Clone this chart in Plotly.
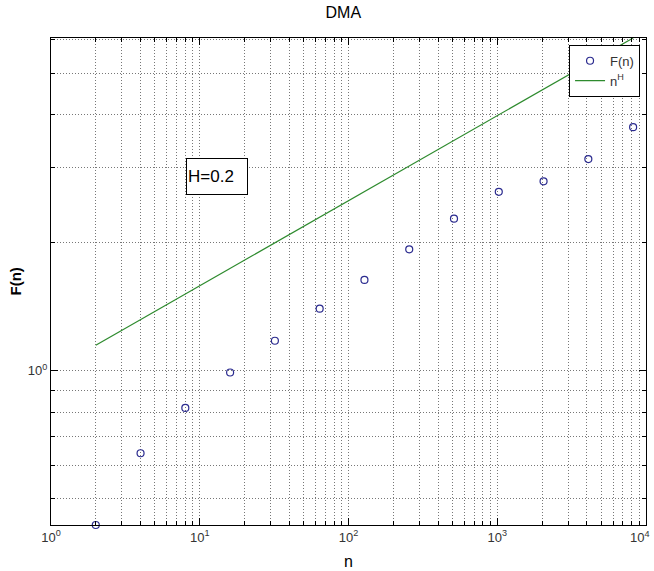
import math
import plotly.graph_objects as go

# Data
n_vals = [2, 4, 8, 16, 32, 64, 128, 256, 512, 1024, 2048, 4096, 8192]
F_vals = [0.434, 0.640, 0.818, 0.991, 1.177, 1.40, 1.636, 1.931, 2.28, 2.636, 2.79, 3.147, 3.742]
fit_n = [2, 8192]
fit_F = [1.149, 6.063]          # n^H with H = 0.2
x_major = [1, 10, 100, 1000, 10000]
x_major_text = ["10<sup>0</sup>", "10<sup>1</sup>", "10<sup>2</sup>", "10<sup>3</sup>", ""]
x_last_text = "10<sup>4</sup>"
x_minor = [m * d for d in [1, 10, 100, 1000] for m in range(2, 10)]
y_major = [1]
y_major_text = ["10<sup>0</sup>"]
y_minor = [0.5, 0.6, 0.7, 0.8, 0.9, 2, 3, 4, 5, 6]
y_low, y_high = 0.434, 6.063

FONT = "Liberation Sans Narrow, Arial Narrow, Liberation Sans, Arial, sans-serif"
GRID = "#777777"
DASH = "1px,2px"

fig = go.Figure()
fig.add_trace(go.Scatter(
    x=n_vals, y=F_vals, mode="markers", name="F(n)",
    marker=dict(symbol="circle-open", size=7, color="#2b2b8f", line=dict(width=1.2)),
    cliponaxis=False,
))
fig.add_trace(go.Scatter(
    x=fit_n, y=fit_F, mode="lines", name="n<sup>H</sup>",
    line=dict(color="#2e8b2e", width=1.2),
))

axis_common = dict(
    showline=True, linecolor="black", linewidth=1, mirror="ticks",
    ticks="inside", ticklen=7, tickcolor="black",
    showgrid=True, gridcolor=GRID, griddash=DASH, gridwidth=1,
    zeroline=False, tickfont=dict(family=FONT, size=13, color="#333333"),
    ticklabeloverflow="allow", automargin=False,
)

fig.update_xaxes(
    type="log", range=[0, 4], tickmode="array", tickvals=x_major, ticktext=x_major_text,
    minor=dict(tickmode="array", tickvals=x_minor, ticks="inside", ticklen=4, tickcolor="black",
               showgrid=True, gridcolor=GRID, griddash=DASH, gridwidth=1),
    **axis_common,
)
fig.update_yaxes(
    type="log", range=[math.log10(y_low), math.log10(y_high)], tickmode="array",
    tickvals=y_major, ticktext=y_major_text,
    minor=dict(tickmode="array", tickvals=y_minor, ticks="inside", ticklen=4, tickcolor="black",
               showgrid=True, gridcolor=GRID, griddash=DASH, gridwidth=1),
    **axis_common,
)

fig.update_layout(
    width=654, height=571,
    margin=dict(l=51, r=8, t=38, b=46, autoexpand=False),
    paper_bgcolor="white", plot_bgcolor="white",
    font=dict(family=FONT, color="black"),
    title=dict(text="DMA", x=0.525, xanchor="center", y=1 - 12 / 571, yanchor="middle",
               font=dict(family=FONT, size=16, color="black")),
    showlegend=True,
    legend=dict(x=0.99, xanchor="right", y=0.986, yanchor="top",
                bgcolor="white", bordercolor="black", borderwidth=1,
                font=dict(family=FONT, size=13, color="#333333"),
                itemwidth=30, tracegroupgap=2),
    annotations=[
        dict(text="H=0.2", xref="paper", yref="paper", x=0.2795, y=0.7166,
             xanchor="center", yanchor="middle", showarrow=False,
             font=dict(family=FONT, size=17, color="black"),
             bordercolor="black", borderwidth=1, bgcolor="white",
             width=58, height=33, align="left", borderpad=1),
        dict(text=x_last_text, xref="paper", yref="paper", x=1.0, y=-0.005,
             xanchor="right", yanchor="top", xshift=6, showarrow=False,
             font=dict(family=FONT, size=13, color="#333333")),
        dict(text="n", xref="paper", yref="paper", x=0.5, y=-0.074,
             xanchor="center", yanchor="middle", showarrow=False,
             font=dict(family=FONT, size=16, color="black")),
        dict(text="<b>F(n)</b>", xref="paper", yref="paper", x=-0.0605, y=0.5,
             xanchor="center", yanchor="middle", showarrow=False, textangle=-90,
             font=dict(family=FONT, size=15, color="black")),
    ],
)

fig.write_html("out.html")
